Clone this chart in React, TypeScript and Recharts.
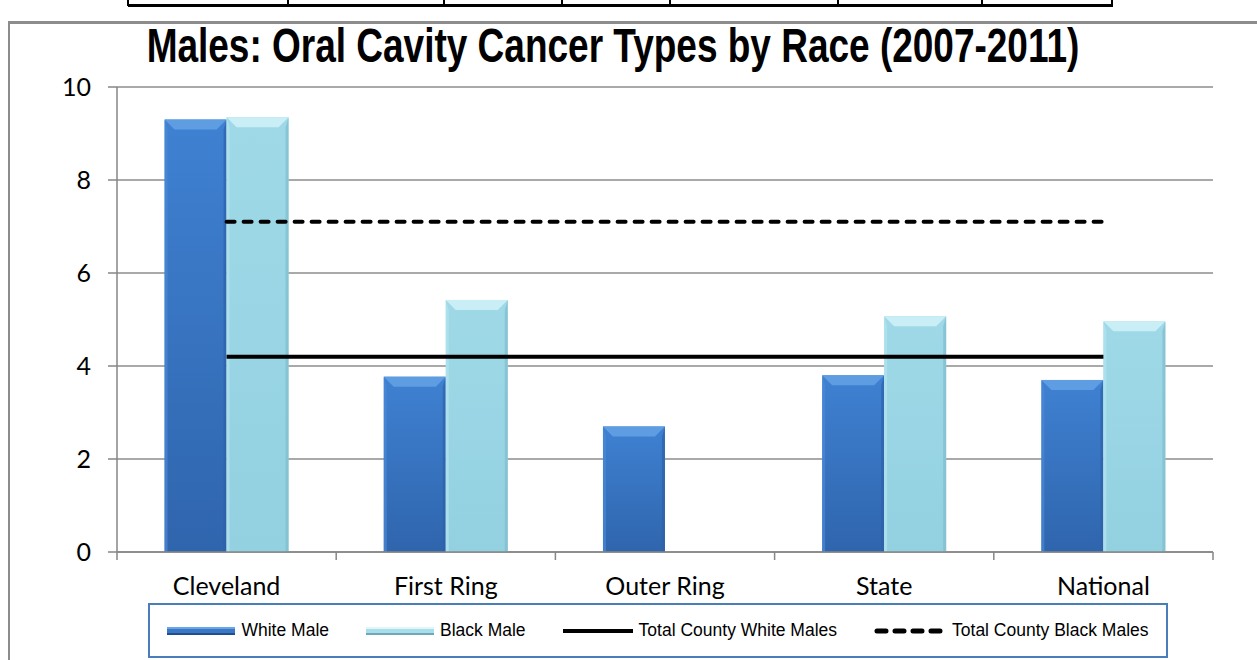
import React from 'react';
import { ComposedChart, Bar, Line, XAxis, YAxis, CartesianGrid, Legend } from 'recharts';

const categories = ['Cleveland', 'First Ring', 'Outer Ring', 'State', 'National'];
const whiteMale = [9.3, 3.77, 2.7, 3.8, 3.7];
const blackMale: (number | null)[] = [9.35, 5.42, null, 5.07, 4.96];
const countyWhiteMales = [4.2, 4.2, 4.2, 4.2, 4.2];
const countyBlackMales = [7.1, 7.1, 7.1, 7.1, 7.1];
const yTicks = [0, 2, 4, 6, 8, 10];
const legendOrder = ['white', 'black', 'cw', 'cb'];

const data = categories.map((c, i) => ({
  name: c,
  white: whiteMale[i],
  black: blackMale[i],
  cw: countyWhiteMales[i],
  cb: countyBlackMales[i],
}));

const SANS = '"Liberation Sans", Arial, sans-serif';
const TICKFONT = 'Lato, "Open Sans", sans-serif';

const makeBevel = (gradId: string, top: string, left: string, right: string) => (props: any) => {
  const { x, y, width, height } = props;
  if (height == null || height <= 0 || width <= 0) return <g />;
  const b = Math.min(10, width / 5, height / 2);
  const s = 3;
  return (
    <g>
      <rect x={x} y={y} width={width} height={height} fill={`url(#${gradId})`} />
      <polygon points={`${x},${y} ${x + s},${y + b} ${x + s},${y + height} ${x},${y + height}`} fill={left} opacity={0.7} />
      <polygon points={`${x + width},${y} ${x + width - s},${y + b} ${x + width - s},${y + height} ${x + width},${y + height}`} fill={right} opacity={0.7} />
      <polygon points={`${x},${y} ${x + width},${y} ${x + width - b},${y + b} ${x + b},${y + b}`} fill={top} />
    </g>
  );
};

const WhiteBar = makeBevel('gWhite', '#5f9de3', '#4a89d6', '#2d61a8');
const BlackBar = makeBevel('gBlack', '#c9eef6', '#b3e4ef', '#7fbccc');

const XTick = (props: any) => {
  const { x, y, payload, index } = props;
  const half = payload && payload.offset ? payload.offset : 109.6;
  const y0 = y - 8;
  return (
    <g>
      <line x1={x - half} y1={y0} x2={x - half} y2={y0 + 8} stroke="#868686" strokeWidth={1.5} />
      {index === categories.length - 1 && (
        <line x1={x + half} y1={y0} x2={x + half} y2={y0 + 8} stroke="#868686" strokeWidth={1.5} />
      )}
      <text x={x} y={y + 35} textAnchor="middle" fontSize={25} fill="#000" fontFamily={TICKFONT}>
        {payload.value}
      </text>
    </g>
  );
};

const LegendIcon = ({ kind }: { kind: string }) => {
  if (kind === 'white') {
    return (
      <svg width={68} height={10}>
        <rect x={0} y={1} width={68} height={8} fill="#3a78c6" />
        <rect x={0} y={1} width={68} height={2} fill="#6aa6e6" />
        <rect x={0} y={7} width={68} height={2} fill="#1f4f8f" />
      </svg>
    );
  }
  if (kind === 'black') {
    return (
      <svg width={68} height={10}>
        <rect x={0} y={1} width={68} height={8} fill="#a9dde9" />
        <rect x={0} y={1} width={68} height={2} fill="#dff6fa" />
        <rect x={0} y={7} width={68} height={2} fill="#6fa8b6" />
      </svg>
    );
  }
  if (kind === 'cw') {
    return (
      <svg width={70} height={10}>
        <line x1={0} y1={5} x2={70} y2={5} stroke="#000" strokeWidth={4} />
      </svg>
    );
  }
  return (
    <svg width={72} height={10}>
      <line x1={3} y1={5} x2={70} y2={5} stroke="#000" strokeWidth={5} strokeDasharray="9 9" strokeLinecap="round" />
    </svg>
  );
};

const LegendContent = (props: any) => {
  const payload = [...(props.payload || [])].sort(
    (a: any, b: any) => legendOrder.indexOf(a.dataKey) - legendOrder.indexOf(b.dataKey)
  );
  return (
    <div
      style={{
        boxSizing: 'border-box',
        width: 1020,
        height: 55,
        border: '2px solid #4a7ebb',
        background: '#fff',
        display: 'flex',
        alignItems: 'center',
        justifyContent: 'center',
        gap: 37,
      }}
    >
      {payload.map((p: any) => (
        <div key={p.dataKey} style={{ display: 'flex', alignItems: 'center', gap: 6 }}>
          <LegendIcon kind={p.dataKey} />
          <span style={{ fontFamily: SANS, fontSize: 17.5, color: '#000' }}>{p.value}</span>
        </div>
      ))}
    </div>
  );
};

const tableCols = [128, 288, 444, 562, 670, 838, 982, 1112];

export default function App() {
  return (
    <div style={{ position: 'absolute', left: 0, top: 0, width: 1257, height: 660, background: '#fff', overflow: 'hidden' }}>
      {/* table fragment at top */}
      <div style={{ position: 'absolute', left: 128, top: 4, width: 985, height: 3, background: '#000' }} />
      {tableCols.map((cx) => (
        <div key={cx} style={{ position: 'absolute', left: cx - 1, top: 0, width: 2, height: 6, background: '#000' }} />
      ))}
      {/* outer frame */}
      <div style={{ position: 'absolute', left: 8, top: 21, width: 1260, height: 3, background: '#8c8c8c' }} />
      <div style={{ position: 'absolute', left: 8, top: 21, width: 2, height: 650, background: '#8c8c8c' }} />

      <div style={{ position: 'absolute', left: 0, top: 0 }}>
        <ComposedChart
          width={1257}
          height={660}
          data={data}
          margin={{ top: 87, right: 44, bottom: 68, left: 57 }}
          barCategoryGap="21.7%"
          barGap={0}
        >
          <defs>
            <linearGradient id="gWhite" x1="0" y1="0" x2="0" y2="1">
              <stop offset="0%" stopColor="#3f81d2" />
              <stop offset="100%" stopColor="#2f65ad" />
            </linearGradient>
            <linearGradient id="gBlack" x1="0" y1="0" x2="0" y2="1">
              <stop offset="0%" stopColor="#9fd9e8" />
              <stop offset="100%" stopColor="#93d1e0" />
            </linearGradient>
          </defs>
          <CartesianGrid vertical={false} stroke="#8c8c8c" strokeWidth={1.5} />
          <XAxis
            dataKey="name"
            height={40}
            axisLine={{ stroke: '#868686', strokeWidth: 1.5 }}
            tickLine={false}
            tick={<XTick />}
            interval={0}
          />
          <YAxis
            width={60}
            domain={[0, 10]}
            ticks={yTicks}
            axisLine={{ stroke: '#868686', strokeWidth: 1.5 }}
            tickLine={{ stroke: '#868686', strokeWidth: 1.5 }}
            tickSize={9}
            tickMargin={17}
            tick={{ fontSize: 25, fill: '#000', fontFamily: TICKFONT }}
          />
          <Bar dataKey="white" name="White Male" shape={<WhiteBar />} isAnimationActive={false} legendType="rect" />
          <Bar dataKey="black" name="Black Male" shape={<BlackBar />} isAnimationActive={false} legendType="rect" />
          <Line dataKey="cw" name="Total County White Males" stroke="#000" strokeWidth={4} dot={false} isAnimationActive={false} />
          <Line
            dataKey="cb"
            name="Total County Black Males"
            stroke="#000"
            strokeWidth={4}
            strokeDasharray="8 9"
            strokeLinecap="round"
            dot={false}
            isAnimationActive={false}
          />
          <Legend
            verticalAlign="middle"
            align="center"
            layout="horizontal"
            content={<LegendContent />}
            wrapperStyle={{ top: 603, left: 148, width: 1020, height: 55 }}
          />
        </ComposedChart>
      </div>

      <svg width={1257} height={84} style={{ position: 'absolute', left: 0, top: 0, pointerEvents: 'none' }}>
        <g transform="translate(613 62) scale(0.755 1)">
          <text x={0} y={0} textAnchor="middle" fontFamily={SANS} fontWeight="bold" fontSize={49} fill="#000">
            Males: Oral Cavity Cancer Types by Race (2007-2011)
          </text>
        </g>
      </svg>
    </div>
  );
}
